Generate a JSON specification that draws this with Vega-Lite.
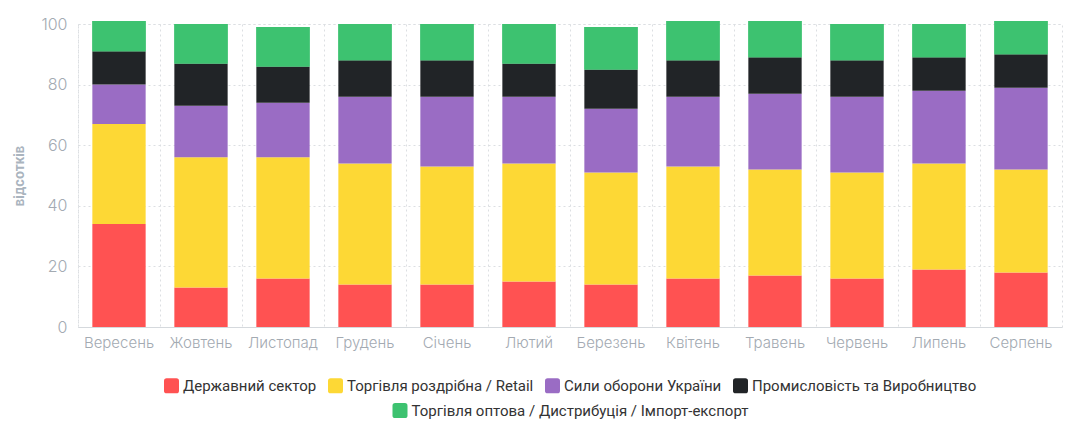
{
  "$schema": "https://vega.github.io/schema/vega-lite/v6.json",
  "width": 984,
  "height": 303,
  "autosize": {"type": "none"},
  "padding": {"left": 78, "top": 24, "right": 11, "bottom": 103},
  "background": "white",
  "config": {
    "view": {"stroke": "#dcdfe2", "strokeDash": [2, 3]},
    "axis": {"labelFont": "Inter", "labelColor": "#a3aab2", "labelFontWeight": 300},
    "legend": {
      "labelFont": "Roboto",
      "labelFontSize": 15,
      "labelColor": "#333333",
      "labelLimit": 0,
      "symbolType": "M-0.65,-1L0.65,-1Q1,-1 1,-0.65L1,0.65Q1,1 0.65,1L-0.65,1Q-1,1 -1,0.65L-1,-0.65Q-1,-1 -0.65,-1Z",
      "symbolSize": 225,
      "symbolStrokeWidth": 0,
      "columnPadding": 11,
      "labelOffset": 4,
      "layout": {"bottom": {"anchor": "middle", "direction": "vertical", "center": true, "margin": 9}}
    }
  },
  "data": {
    "values": [
      {"month": "Вересень", "sector": "Державний сектор", "value": 34},
      {"month": "Вересень", "sector": "Торгівля роздрібна / Retail", "value": 33},
      {"month": "Вересень", "sector": "Сили оборони України", "value": 13},
      {"month": "Вересень", "sector": "Промисловість та Виробництво", "value": 11},
      {"month": "Вересень", "sector": "Торгівля оптова / Дистрибуція / Імпорт-експорт", "value": 10},
      {"month": "Жовтень", "sector": "Державний сектор", "value": 13},
      {"month": "Жовтень", "sector": "Торгівля роздрібна / Retail", "value": 43},
      {"month": "Жовтень", "sector": "Сили оборони України", "value": 17},
      {"month": "Жовтень", "sector": "Промисловість та Виробництво", "value": 14},
      {"month": "Жовтень", "sector": "Торгівля оптова / Дистрибуція / Імпорт-експорт", "value": 13},
      {"month": "Листопад", "sector": "Державний сектор", "value": 16},
      {"month": "Листопад", "sector": "Торгівля роздрібна / Retail", "value": 40},
      {"month": "Листопад", "sector": "Сили оборони України", "value": 18},
      {"month": "Листопад", "sector": "Промисловість та Виробництво", "value": 12},
      {"month": "Листопад", "sector": "Торгівля оптова / Дистрибуція / Імпорт-експорт", "value": 13},
      {"month": "Грудень", "sector": "Державний сектор", "value": 14},
      {"month": "Грудень", "sector": "Торгівля роздрібна / Retail", "value": 40},
      {"month": "Грудень", "sector": "Сили оборони України", "value": 22},
      {"month": "Грудень", "sector": "Промисловість та Виробництво", "value": 12},
      {"month": "Грудень", "sector": "Торгівля оптова / Дистрибуція / Імпорт-експорт", "value": 12},
      {"month": "Січень", "sector": "Державний сектор", "value": 14},
      {"month": "Січень", "sector": "Торгівля роздрібна / Retail", "value": 39},
      {"month": "Січень", "sector": "Сили оборони України", "value": 23},
      {"month": "Січень", "sector": "Промисловість та Виробництво", "value": 12},
      {"month": "Січень", "sector": "Торгівля оптова / Дистрибуція / Імпорт-експорт", "value": 12},
      {"month": "Лютий", "sector": "Державний сектор", "value": 15},
      {"month": "Лютий", "sector": "Торгівля роздрібна / Retail", "value": 39},
      {"month": "Лютий", "sector": "Сили оборони України", "value": 22},
      {"month": "Лютий", "sector": "Промисловість та Виробництво", "value": 11},
      {"month": "Лютий", "sector": "Торгівля оптова / Дистрибуція / Імпорт-експорт", "value": 13},
      {"month": "Березень", "sector": "Державний сектор", "value": 14},
      {"month": "Березень", "sector": "Торгівля роздрібна / Retail", "value": 37},
      {"month": "Березень", "sector": "Сили оборони України", "value": 21},
      {"month": "Березень", "sector": "Промисловість та Виробництво", "value": 13},
      {"month": "Березень", "sector": "Торгівля оптова / Дистрибуція / Імпорт-експорт", "value": 14},
      {"month": "Квітень", "sector": "Державний сектор", "value": 16},
      {"month": "Квітень", "sector": "Торгівля роздрібна / Retail", "value": 37},
      {"month": "Квітень", "sector": "Сили оборони України", "value": 23},
      {"month": "Квітень", "sector": "Промисловість та Виробництво", "value": 12},
      {"month": "Квітень", "sector": "Торгівля оптова / Дистрибуція / Імпорт-експорт", "value": 13},
      {"month": "Травень", "sector": "Державний сектор", "value": 17},
      {"month": "Травень", "sector": "Торгівля роздрібна / Retail", "value": 35},
      {"month": "Травень", "sector": "Сили оборони України", "value": 25},
      {"month": "Травень", "sector": "Промисловість та Виробництво", "value": 12},
      {"month": "Травень", "sector": "Торгівля оптова / Дистрибуція / Імпорт-експорт", "value": 12},
      {"month": "Червень", "sector": "Державний сектор", "value": 16},
      {"month": "Червень", "sector": "Торгівля роздрібна / Retail", "value": 35},
      {"month": "Червень", "sector": "Сили оборони України", "value": 25},
      {"month": "Червень", "sector": "Промисловість та Виробництво", "value": 12},
      {"month": "Червень", "sector": "Торгівля оптова / Дистрибуція / Імпорт-експорт", "value": 12},
      {"month": "Липень", "sector": "Державний сектор", "value": 19},
      {"month": "Липень", "sector": "Торгівля роздрібна / Retail", "value": 35},
      {"month": "Липень", "sector": "Сили оборони України", "value": 24},
      {"month": "Липень", "sector": "Промисловість та Виробництво", "value": 11},
      {"month": "Липень", "sector": "Торгівля оптова / Дистрибуція / Імпорт-експорт", "value": 11},
      {"month": "Серпень", "sector": "Державний сектор", "value": 18},
      {"month": "Серпень", "sector": "Торгівля роздрібна / Retail", "value": 34},
      {"month": "Серпень", "sector": "Сили оборони України", "value": 27},
      {"month": "Серпень", "sector": "Промисловість та Виробництво", "value": 11},
      {"month": "Серпень", "sector": "Торгівля оптова / Дистрибуція / Імпорт-експорт", "value": 11}
    ]
  },
  "transform": [
    {"calculate": "indexof(['Державний сектор', 'Торгівля роздрібна / Retail', 'Сили оборони України', 'Промисловість та Виробництво', 'Торгівля оптова / Дистрибуція / Імпорт-експорт'], datum.sector)", "as": "rank"},
    {"stack": "value", "groupby": ["month"], "sort": [{"field": "rank", "order": "ascending"}], "as": ["y0", "y1"]}
  ],
  "encoding": {
    "x": {
      "field": "month",
      "type": "nominal",
      "sort": ["Вересень", "Жовтень", "Листопад", "Грудень", "Січень", "Лютий", "Березень", "Квітень", "Травень", "Червень", "Липень", "Серпень"],
      "scale": {"paddingInner": 0.35, "paddingOuter": 0.175},
      "axis": {
        "title": null,
        "labelAngle": 0,
        "labelFontSize": 15,
        "labelPadding": 8,
        "ticks": false,
        "domainColor": "#d5d9dd",
        "grid": true,
        "bandPosition": -0.269,
        "gridDash": [2, 3],
        "gridColor": "#dcdfe2"
      }
    },
    "y": {
      "field": "y0",
      "type": "quantitative",
      "scale": {"domain": [0, 100], "nice": false},
      "axis": {
        "title": "відсотків",
        "titleFont": "Inter",
        "titleFontSize": 13,
        "titleFontWeight": "bold",
        "titleColor": "#aab4be",
        "titlePadding": 14,
        "values": [0, 20, 40, 60, 80, 100],
        "labelFontSize": 16,
        "labelPadding": 11,
        "ticks": false,
        "domain": false,
        "gridDash": [2, 3],
        "gridColor": "#dcdfe2"
      }
    },
    "y2": {"field": "y1"}
  },
  "layer": [
    {
      "mark": {"type": "bar"},
      "encoding": {
        "color": {
          "field": "sector",
          "type": "nominal",
          "scale": {
            "domain": ["Державний сектор", "Торгівля роздрібна / Retail", "Сили оборони України", "Промисловість та Виробництво", "Торгівля оптова / Дистрибуція / Імпорт-експорт"],
            "range": ["#ff5252", "#fdd835", "#9a6cc4", "#212427", "#3dc270"]
          },
          "legend": {
            "orient": "bottom",
            "direction": "horizontal",
            "title": null,
            "offset": 28,
            "values": ["Державний сектор", "Торгівля роздрібна / Retail", "Сили оборони України", "Промисловість та Виробництво"]
          }
        }
      }
    },
    {
      "transform": [{"filter": "datum.rank === 4"}],
      "mark": {"type": "bar"},
      "encoding": {
        "fill": {
          "field": "sector",
          "type": "nominal",
          "scale": {
            "domain": ["Торгівля оптова / Дистрибуція / Імпорт-експорт"],
            "range": ["#3dc270"]
          },
          "legend": {
            "orient": "bottom",
            "direction": "horizontal",
            "title": null,
            "offset": 28
          }
        }
      }
    }
  ]
}
